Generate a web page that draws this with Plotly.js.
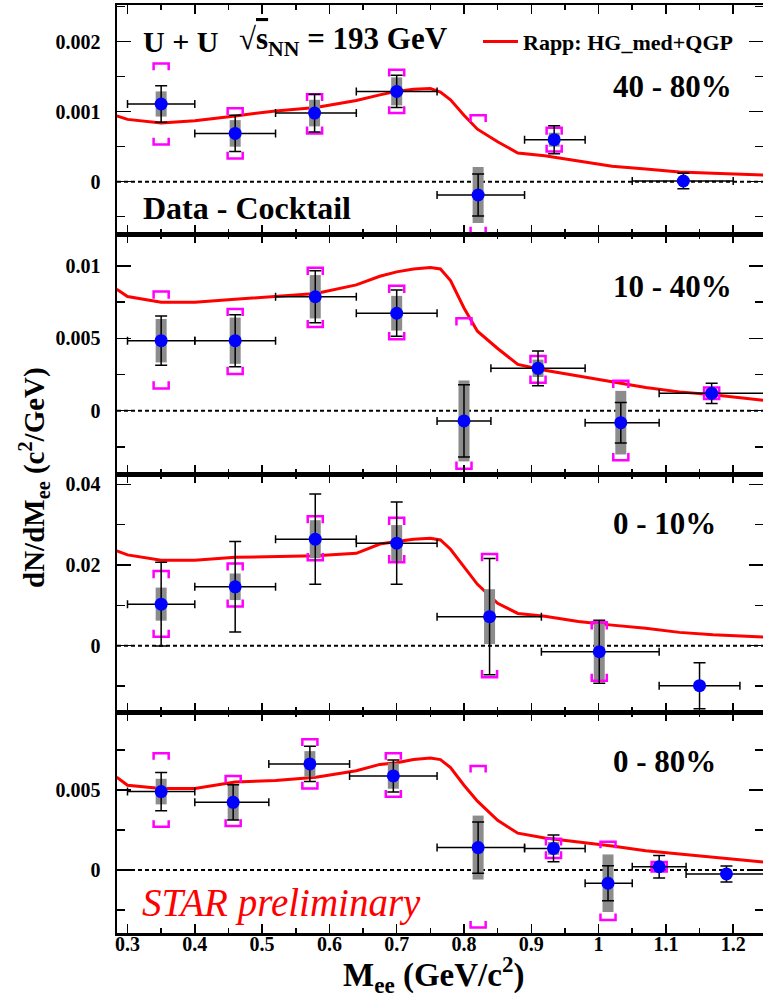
<!DOCTYPE html>
<html>
<head>
<meta charset="utf-8">
<script src="https://cdn.plot.ly/plotly-3.0.1.min.js"></script>
<style>
html,body{margin:0;padding:0;background:#fff;}
#chart{width:763px;height:1002px;}
</style>
</head>
<body>
<div id="chart"></div>
<script>
// ---------------- DATA ----------------
// Model curve (Rapp: HG_med+QGP) sampled on a common mass grid
const modelMass = [0.284, 0.30, 0.35, 0.40, 0.46, 0.52, 0.58, 0.64, 0.675, 0.70, 0.725, 0.75, 0.765, 0.78, 0.80, 0.82, 0.85, 0.88, 0.92, 0.97, 1.02, 1.07, 1.12, 1.17, 1.25];
const model_40_80 = [0.00094, 0.00089, 0.00084, 0.00087, 0.00094, 0.00101, 0.00106, 0.00116, 0.00124, 0.00129, 0.00132, 0.00133, 0.00128, 0.00117, 0.00095, 0.00075, 0.00057, 0.00041, 0.00037, 0.00029, 0.00022, 0.00018, 0.00014, 0.00012, 0.000093];
const model_10_40 = [0.0084, 0.0079, 0.0075, 0.0075, 0.0077, 0.0079, 0.0081, 0.0087, 0.0093, 0.0096, 0.0098, 0.0099, 0.0098, 0.0090, 0.0071, 0.0055, 0.0043, 0.0032, 0.0028, 0.0024, 0.0020, 0.0016, 0.0013, 0.0011, 0.0007];
const model_0_10  = [0.0235, 0.0225, 0.0212, 0.0212, 0.0219, 0.0221, 0.0223, 0.0229, 0.0252, 0.0258, 0.0264, 0.0266, 0.0262, 0.0239, 0.0196, 0.0152, 0.0105, 0.0080, 0.0073, 0.0060, 0.0051, 0.0043, 0.0033, 0.0027, 0.0021];
const model_0_80  = [0.0058, 0.0053, 0.0051, 0.0051, 0.0055, 0.0056, 0.0058, 0.0062, 0.0066, 0.0067, 0.0069, 0.0070, 0.0069, 0.0064, 0.0053, 0.0043, 0.0031, 0.0023, 0.0020, 0.00177, 0.0015, 0.0012, 0.0010, 0.00083, 0.00048];

// 40-80%
const m_40_80    = [0.35, 0.46, 0.578, 0.70, 0.821, 0.934, 1.126];
const y_40_80    = [0.00111, 0.00069, 0.00098, 0.00129, -0.00019, 0.00060, 0.00001];
const stat_40_80 = [0.00026, 0.00026, 0.00027, 0.00023, 0.00030, 0.00020, 0.00011];
const gray_40_80 = [0.00018, 0.00019, 0.00019, 0.00020, 0.00040, 0.00010, 0];
const sysHi_40_80 = [0.00058, 0.00036, 0.00027, 0.00031, 0.00114, 0.00017, null];
const sysLo_40_80 = [0.00058, 0.00036, 0.00029, 0.00031, 0.00055, 0.00017, null];
const binLo_40_80 = [0.30, 0.40, 0.52, 0.64, 0.76, 0.89, 1.05];
const binHi_40_80 = [0.40, 0.52, 0.64, 0.76, 0.89, 0.98, 1.20];

// 10-40%
const m_10_40    = [0.35, 0.46, 0.579, 0.70, 0.80, 0.91, 1.033, 1.168];
const y_10_40    = [0.00484, 0.00484, 0.00788, 0.00674, -0.00071, 0.00293, -0.00083, 0.0012];
const stat_10_40 = [0.0017, 0.0018, 0.0018, 0.0016, 0.0025, 0.0012, 0.0014, 0.0007];
const gray_10_40 = [0.0015, 0.0016, 0.0015, 0.0012, 0.0028, 0.0006, 0.0022, 0.0003];
const sysHi_10_40 = [0.0034, 0.0022, 0.0020, 0.0019, 0.0071, 0.00085, 0.0029, 0.0004];
const sysLo_10_40 = [0.0033, 0.0023, 0.0021, 0.0018, 0.0033, 0.0010, 0.0026, 0.0004];
const binLo_10_40 = [0.30, 0.40, 0.52, 0.64, 0.76, 0.84, 0.98, 1.09];
const binHi_10_40 = [0.40, 0.52, 0.64, 0.76, 0.84, 0.98, 1.09, 1.30];

// 0-10%
const m_0_10    = [0.35, 0.46, 0.579, 0.70, 0.838, 1.001, 1.15];
const y_0_10    = [0.0103, 0.0146, 0.0264, 0.0254, 0.0072, -0.0015, -0.0099];
const stat_0_10 = [0.0104, 0.0112, 0.0112, 0.0102, 0.0144, 0.0078, 0.0057];
const gray_0_10 = [0.0041, 0.0033, 0.0047, 0.0045, 0.0068, 0.0070, 0];
const sysHi_0_10 = [0.0082, 0.0058, 0.0057, 0.0063, 0.0155, 0.0073, null];
const sysLo_0_10 = [0.0081, 0.0049, 0.0052, 0.0047, 0.0150, 0.0072, null];
const binLo_0_10 = [0.30, 0.40, 0.52, 0.64, 0.76, 0.915, 1.09];
const binHi_0_10 = [0.40, 0.52, 0.64, 0.76, 0.915, 1.09, 1.21];

// 0-80%
const m_0_80    = [0.35, 0.457, 0.571, 0.695, 0.821, 0.933, 1.014, 1.09, 1.19];
const y_0_80    = [0.0049, 0.00423, 0.00663, 0.00588, 0.0014, 0.00135, -0.00083, 0.0002, -0.00025];
const stat_0_80 = [0.0012, 0.0011, 0.0011, 0.0010, 0.0016, 0.00083, 0.0011, 0.0007, 0.0005];
const gray_0_80 = [0.0008, 0.0011, 0.0008, 0.0008, 0.0020, 0.0004, 0.0018, 0.0002, 0];
const sysHi_0_80 = [0.0024, 0.00165, 0.00154, 0.00142, 0.0051, 0.0006, 0.0026, 0.0003, null];
const sysLo_0_80 = [0.0022, 0.00148, 0.00153, 0.0013, 0.0050, 0.0006, 0.0023, 0.0003, null];
const binLo_0_80 = [0.30, 0.40, 0.51, 0.63, 0.76, 0.89, 0.98, 1.05, 1.13];
const binHi_0_80 = [0.40, 0.51, 0.63, 0.76, 0.89, 0.98, 1.05, 1.13, 1.30];

// Tick labels
const xTickVals = [0.3, 0.4, 0.5, 0.6, 0.7, 0.8, 0.9, 1.0, 1.1, 1.2];
const xTickText = ['0.3', '0.4', '0.5', '0.6', '0.7', '0.8', '0.9', '1', '1.1', '1.2'];
const yTickVals_40_80 = [0, 0.001, 0.002];
const yTickText_40_80 = ['0', '0.001', '0.002'];
const yTickVals_10_40 = [0, 0.005, 0.01];
const yTickText_10_40 = ['0', '0.005', '0.01'];
const yTickVals_0_10 = [0, 0.02, 0.04];
const yTickText_0_10 = ['0', '0.02', '0.04'];
const yTickVals_0_80 = [0, 0.005];
const yTickText_0_80 = ['0', '0.005'];

const centralityLabels = ['40 - 80%', '10 - 40%', '0 - 10%', '0 - 80%'];
const modelName = 'Rapp: HG_med+QGP';

// ---------------- STYLE / LAYOUT ----------------
const FONT = 'Liberation Serif';
const W = 763, H = 1002;
const ML = 117, MR = 0, MT = 5, MB = 69;
const fx = px => (px - ML) / (W - ML - MR);
const fy = py => (H - MB - py) / (H - MT - MB);

const xRange = [0.2844, 1.2443];
const panels = [
  {m: m_40_80, y: y_40_80, stat: stat_40_80, gray: gray_40_80, hi: sysHi_40_80, lo: sysLo_40_80, bl: binLo_40_80, bh: binHi_40_80, model: model_40_80,
   range: [-0.000747, 0.002524], tv: yTickVals_40_80, tt: yTickText_40_80, minor: 0.0005, top: 5, bottom: 234},
  {m: m_10_40, y: y_10_40, stat: stat_10_40, gray: gray_10_40, hi: sysHi_10_40, lo: sysLo_10_40, bl: binLo_10_40, bh: binHi_10_40, model: model_10_40,
   range: [-0.00438, 0.01222], tv: yTickVals_10_40, tt: yTickText_10_40, minor: 0.0025, top: 234, bottom: 474},
  {m: m_0_10, y: y_0_10, stat: stat_0_10, gray: gray_0_10, hi: sysHi_0_10, lo: sysLo_0_10, bl: binLo_0_10, bh: binHi_0_10, model: model_0_10,
   range: [-0.01643, 0.04255], tv: yTickVals_0_10, tt: yTickText_0_10, minor: 0.01, top: 474, bottom: 712},
  {m: m_0_80, y: y_0_80, stat: stat_0_80, gray: gray_0_80, hi: sysHi_0_80, lo: sysLo_0_80, bl: binLo_0_80, bh: binHi_0_80, model: model_0_80,
   range: [-0.00394, 0.009875], tv: yTickVals_0_80, tt: yTickText_0_80, minor: 0.0025, top: 712, bottom: 933}
];

function bracketPath(m, y, hi, lo, halfW, tick) {
  const xs = [], ys = [];
  for (let i = 0; i < m.length; i++) {
    if (hi[i] == null) continue;
    const top = y[i] + hi[i], bot = y[i] - lo[i];
    xs.push(m[i] - halfW, m[i] - halfW, m[i] + halfW, m[i] + halfW, null);
    ys.push(top - tick, top, top, top - tick, null);
    xs.push(m[i] - halfW, m[i] - halfW, m[i] + halfW, m[i] + halfW, null);
    ys.push(bot + tick, bot, bot, bot + tick, null);
  }
  return {xs, ys};
}

const traces = [];
const layout = {
  width: W, height: H,
  margin: {l: ML, r: MR, t: MT, b: MB},
  paper_bgcolor: '#fff', plot_bgcolor: '#fff',
  font: {family: FONT, color: '#000'},
  showlegend: true,
  legend: {x: fx(478), y: fy(41.7), xanchor: 'left', yanchor: 'middle', bgcolor: 'rgba(0,0,0,0)',
           font: {family: FONT, size: 22, weight: 'bold', color: '#000'}, itemwidth: 35, tracegroupgap: 0},
  shapes: [], annotations: []
};

panels.forEach((p, k) => {
  const n = k + 1;
  const xa = 'x' + (n === 1 ? '' : n), ya = 'y' + (n === 1 ? '' : n);
  const xName = 'xaxis' + (n === 1 ? '' : n), yName = 'yaxis' + (n === 1 ? '' : n);
  const span = p.range[1] - p.range[0];

  traces.push({type: 'scatter', mode: 'lines', x: modelMass, y: p.model, xaxis: xa, yaxis: ya,
    line: {color: '#ff0000', width: 3}, name: modelName, showlegend: k === 0, hoverinfo: 'skip'});

  traces.push({type: 'scatter', mode: 'markers', x: p.m, y: p.y, xaxis: xa, yaxis: ya,
    marker: {size: 2, opacity: 0}, showlegend: false, hoverinfo: 'skip',
    error_y: {type: 'data', array: p.gray, color: '#8c8c8c', thickness: 11, width: 0}});

  const br = bracketPath(p.m, p.y, p.hi, p.lo, 0.0112, 0.03 * span);
  traces.push({type: 'scatter', mode: 'lines', x: br.xs, y: br.ys, xaxis: xa, yaxis: ya,
    line: {color: '#ff00ff', width: 2.5}, connectgaps: false, showlegend: false, hoverinfo: 'skip'});

  traces.push({type: 'scatter', mode: 'markers', x: p.m, y: p.y, xaxis: xa, yaxis: ya,
    marker: {size: 13, color: '#0000ff'}, showlegend: false, hoverinfo: 'skip',
    error_y: {type: 'data', array: p.stat, color: '#000', thickness: 1.5, width: 6},
    error_x: {type: 'data', array: p.bh.map((v, i) => v - p.m[i]), arrayminus: p.bl.map((v, i) => p.m[i] - v),
              color: '#000', thickness: 1.5, width: 4}});

  layout[xName] = {
    anchor: ya, range: xRange, showgrid: false, zeroline: false,
    showline: true, linecolor: '#000', linewidth: 2.5, mirror: 'allticks',
    ticks: 'inside', ticklen: 9, tickwidth: 1.5, tickcolor: '#000',
    tickmode: 'array', tickvals: xTickVals, ticktext: xTickText,
    showticklabels: k === 3, ticklabelstandoff: -9,
    tickfont: {family: FONT, size: 20, weight: 'bold', color: '#000'},
    minor: {ticks: 'inside', ticklen: 5, tickwidth: 1.5, tickcolor: '#000', dtick: 0.05, tick0: 0, showgrid: false}
  };
  layout[yName] = {
    anchor: xa, range: p.range, domain: [fy(p.bottom), fy(p.top)], showgrid: false, zeroline: false,
    showline: true, linecolor: '#000', linewidth: 2.5, mirror: 'ticks',
    ticks: 'inside', ticklen: 14, tickwidth: 1.5, tickcolor: '#000',
    tickmode: 'array', tickvals: p.tv, ticktext: p.tt, ticklabelstandoff: 10,
    tickfont: {family: FONT, size: 20, weight: 'bold', color: '#000'},
    minor: {ticks: 'inside', ticklen: 8, tickwidth: 1.5, tickcolor: '#000', dtick: p.minor, tick0: 0, showgrid: false}
  };

  layout.shapes.push({type: 'line', xref: xa + ' domain', x0: 0, x1: 1, yref: ya, y0: 0, y1: 0,
    line: {color: '#000', width: 2, dash: '4px,3px'}, layer: 'below'});
});

const centY = [86.5, 286.7, 524, 761.7];
centralityLabels.forEach((t, k) => {
  layout.annotations.push({text: t, xref: 'paper', yref: 'paper', x: fx(611), y: fy(centY[k]),
    xanchor: 'left', yanchor: 'middle', showarrow: false,
    font: {family: FONT, size: 31, weight: 'bold', color: '#000'}});
});

layout.annotations.push(
  {text: 'U + U', xref: 'paper', yref: 'paper', x: fx(141), y: fy(41), xanchor: 'left', yanchor: 'middle', showarrow: false,
   font: {family: FONT, size: 30, weight: 'bold', color: '#000'}},
  {text: '\u221A<span style="text-decoration:overline">s</span><sub>NN</sub> = 193 GeV', xref: 'paper', yref: 'paper', x: fx(237), y: fy(41),
   xanchor: 'left', yanchor: 'middle', showarrow: false,
   font: {family: FONT, size: 31, weight: 'bold', color: '#000'}},
  {text: 'Data - Cocktail', xref: 'paper', yref: 'paper', x: fx(141), y: fy(207.5), xanchor: 'left', yanchor: 'middle', showarrow: false,
   font: {family: FONT, size: 32, weight: 'bold', color: '#000'}},
  {text: 'STAR preliminary', xref: 'paper', yref: 'paper', x: fx(140), y: fy(903), xanchor: 'left', yanchor: 'middle', showarrow: false,
   font: {family: FONT, size: 39, style: 'italic', color: '#ff0000'}},
  {text: 'dN/dM<sub>ee</sub> (c<sup>2</sup>/GeV)', xref: 'paper', yref: 'paper', x: fx(34), y: fy(477), textangle: -90,
   xanchor: 'center', yanchor: 'middle', showarrow: false,
   font: {family: FONT, size: 29, weight: 'bold', color: '#000'}},
  {text: 'M<sub>ee</sub> (GeV/c<sup>2</sup>)', xref: 'paper', yref: 'paper', x: fx(433), y: fy(974),
   xanchor: 'center', yanchor: 'middle', showarrow: false,
   font: {family: FONT, size: 33, weight: 'bold', color: '#000'}}
);

Plotly.newPlot('chart', traces, layout, {staticPlot: true, displayModeBar: false});
</script>
</body>
</html>
